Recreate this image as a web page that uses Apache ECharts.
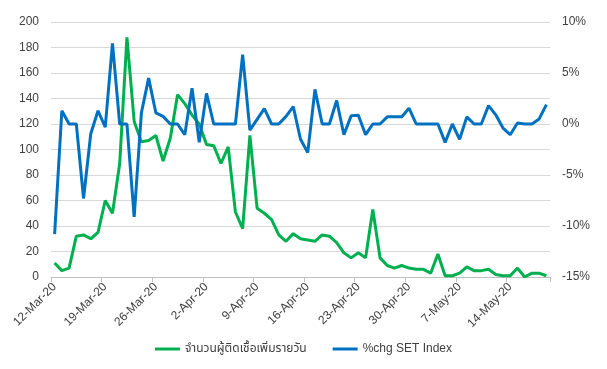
<!DOCTYPE html>
<html>
<head>
<meta charset="utf-8">
<script src="https://cdn.jsdelivr.net/npm/echarts@6/dist/echarts.min.js"></script>
<style>html,body{margin:0;padding:0;background:#fff;}#c{width:607px;height:369px;}</style>
</head>
<body>
<div id="c"></div>
<script>
const dates = [
 '12-Mar-20','13-Mar-20','14-Mar-20','15-Mar-20','16-Mar-20','17-Mar-20','18-Mar-20','19-Mar-20','20-Mar-20','21-Mar-20',
 '22-Mar-20','23-Mar-20','24-Mar-20','25-Mar-20','26-Mar-20','27-Mar-20','28-Mar-20','29-Mar-20','30-Mar-20','31-Mar-20',
 '1-Apr-20','2-Apr-20','3-Apr-20','4-Apr-20','5-Apr-20','6-Apr-20','7-Apr-20','8-Apr-20','9-Apr-20','10-Apr-20',
 '11-Apr-20','12-Apr-20','13-Apr-20','14-Apr-20','15-Apr-20','16-Apr-20','17-Apr-20','18-Apr-20','19-Apr-20','20-Apr-20',
 '21-Apr-20','22-Apr-20','23-Apr-20','24-Apr-20','25-Apr-20','26-Apr-20','27-Apr-20','28-Apr-20','29-Apr-20','30-Apr-20',
 '1-May-20','2-May-20','3-May-20','4-May-20','5-May-20','6-May-20','7-May-20','8-May-20','9-May-20','10-May-20',
 '11-May-20','12-May-20','13-May-20','14-May-20','15-May-20','16-May-20','17-May-20','18-May-20','19-May-20'
];
const newCases = [
 11,5,7,32,33,30,35,60,50,89,
 188,122,106,107,111,91,109,143,136,127,
 120,104,103,89,102,51,38,111,54,50,
 45,33,28,34,30,29,28,33,32,27,
 19,15,19,15,53,15,9,7,9,7,
 6,6,3,18,1,1,3,8,5,5,
 6,2,1,1,7,0,3,3,1
];
const setChg = [
 -10.8,1.3,0,0,-7.3,-0.95,1.3,-0.3,7.9,0,
 0,-9.1,1.1,4.5,1.1,0.75,0,0,-1.05,3.5,
 -1.8,3.0,0,0,0,0,6.8,-0.6,0.45,1.5,
 0,0,0.75,1.7,-1.5,-2.8,3.4,0,0,2.3,
 -1.05,0.8,0.85,-1.05,0,0,0.7,0.7,0.7,1.55,
 0,0,0,0,-1.8,0,-1.5,0.7,0,0,
 1.8,0.9,-0.4,-1.05,0.1,0,0,0.5,1.9
];
const seriesNames = ['จำนวนผู้ติดเชื้อเพิ่มรายวัน','%chg SET Index'];
const leftTicks = {min:0,max:200,interval:20};
const rightTicks = {min:-15,max:10,interval:5};

const chart = echarts.init(document.getElementById('c'), null, {renderer:'canvas'});
const font = "'Liberation Sans', Arial, 'Noto Sans', 'Noto Sans Thai', sans-serif";
chart.setOption({
  animation:false,
  backgroundColor:'#ffffff',
  textStyle:{fontFamily:font},
  grid:{left:51,right:57,top:22,bottom:92,containLabel:false},
  legend:{
    bottom:9,left:'center',icon:'rect',itemWidth:25,itemHeight:3,itemGap:26,
    textStyle:{fontFamily:font,fontSize:12,color:'#404040'},
    data:seriesNames
  },
  xAxis:{
    type:'category',data:dates,boundaryGap:true,
    axisLine:{lineStyle:{color:'#bfbfbf'}},
    axisTick:{show:true,interval:6,length:5,lineStyle:{color:'#bfbfbf'}},
    axisLabel:{interval:6,rotate:45,fontSize:12,color:'#404040',margin:8,fontFamily:font}
  },
  yAxis:[
    {type:'value',min:leftTicks.min,max:leftTicks.max,interval:leftTicks.interval,
     axisLine:{show:false},axisTick:{show:false},
     splitLine:{lineStyle:{color:'#d9d9d9',width:1}},
     axisLabel:{fontSize:12,color:'#404040',margin:12,fontFamily:font}},
    {type:'value',min:rightTicks.min,max:rightTicks.max,interval:rightTicks.interval,
     axisLine:{show:false},axisTick:{show:false},splitLine:{show:false},
     axisLabel:{fontSize:12,color:'#404040',margin:12,fontFamily:font,formatter:v=>v+'%'}}
  ],
  series:[
    {name:seriesNames[0],type:'line',data:newCases,yAxisIndex:0,symbol:'none',
     lineStyle:{color:'#00B050',width:3},itemStyle:{color:'#00B050'}},
    {name:seriesNames[1],type:'line',data:setChg,yAxisIndex:1,symbol:'none',
     lineStyle:{color:'#0070C0',width:3},itemStyle:{color:'#0070C0'}}
  ]
});
</script>
</body>
</html>
